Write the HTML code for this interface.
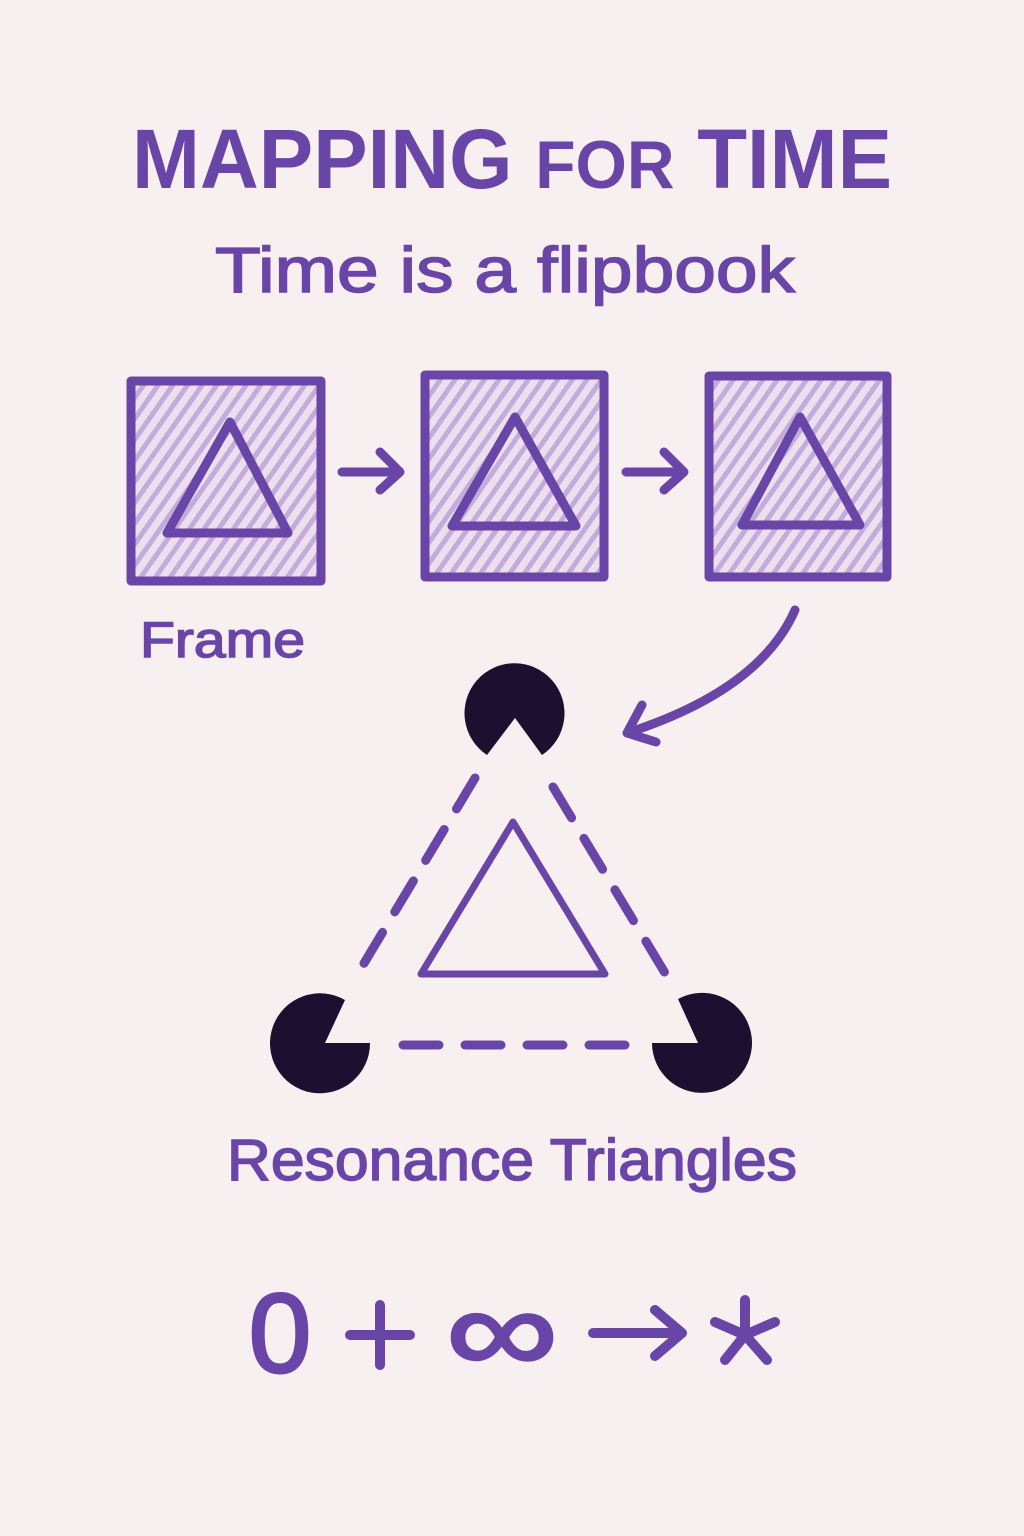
<!DOCTYPE html>
<html><head><meta charset="utf-8"><style>
html,body{margin:0;padding:0;background:#f8eff0;}
svg{display:block}
text{font-family:"Liberation Sans",sans-serif;fill:#6a45a8;}
</style></head><body>
<svg width="1024" height="1536" viewBox="0 0 1024 1536">
<defs>
<pattern id="h" width="12" height="12" patternUnits="userSpaceOnUse" patternTransform="rotate(-55)">
<rect width="12" height="12" fill="#ece0ef"/>
<rect width="12" height="5" fill="#c3acdc"/>
</pattern>
</defs>
<rect width="1024" height="1536" fill="#f8eff0"/>
<text x="512" y="188" text-anchor="middle" font-size="84" font-weight="bold" textLength="760" lengthAdjust="spacingAndGlyphs">MAPPING <tspan font-size="68">FOR</tspan> TIME</text>
<text x="505" y="292" text-anchor="middle" font-size="64" textLength="580" lengthAdjust="spacingAndGlyphs" stroke="#6a45a8" stroke-width="1.5">Time is a flipbook</text>
<g stroke="#6a45a8" stroke-width="9" stroke-linejoin="round" stroke-linecap="round">
<rect x="131" y="381" width="190" height="200" fill="url(#h)"/>
<rect x="425" y="375" width="179" height="202" fill="url(#h)"/>
<rect x="709" y="376" width="178" height="201" fill="url(#h)"/>
<polygon points="230,422 167,533 288,533" fill="none"/>
<polygon points="515,417 452,526 576,526" fill="none"/>
<polygon points="800,417 742,525 860,525" fill="none"/>
<path d="M342,472 H398 M380,452 L400,472 L380,490" fill="none"/>
<path d="M626,472 H682 M664,452 L684,472 L664,490" fill="none"/>
<path d="M795,610 Q760,690 627,733 M642,705 L627,733 L656,742" fill="none"/>
</g>
<text x="140" y="657" font-size="50" textLength="165" lengthAdjust="spacingAndGlyphs" stroke="#6a45a8" stroke-width="1.5">Frame</text>
<g fill="#1c0f30">
<path d="M515,718 L487,755 A50,50 0 1,1 542,755 Z"/>
<path d="M325,1043 L370,1043 A50,50 0 1,1 345,1000 Z"/>
<path d="M698,1043 L652,1043 A50,50 0 1,0 678,999 Z"/>
</g>
<g stroke="#6a45a8" stroke-width="9" stroke-linecap="round" fill="none">
<path d="M475,778 L357,975" stroke-dasharray="36,24"/>
<path d="M553,787 L665,973" stroke-dasharray="36,24"/>
<path d="M403,1045 H628" stroke-dasharray="36,26"/>
<polygon points="513,822 421,974 605,974" stroke-width="7" stroke-linejoin="round"/>
</g>
<text x="512" y="1180" text-anchor="middle" font-size="58" textLength="570" lengthAdjust="spacingAndGlyphs" stroke="#6a45a8" stroke-width="1.5">Resonance Triangles</text>
<text x="280" y="1372" text-anchor="middle" font-size="112" stroke="#6a45a8" stroke-width="3">0</text>
<text x="502" y="1372" text-anchor="middle" font-size="120" textLength="112" lengthAdjust="spacingAndGlyphs" stroke="#6a45a8" stroke-width="3">∞</text>
<g stroke="#6a45a8" stroke-width="10" stroke-linecap="round" stroke-linejoin="round" fill="none">
<path d="M380,1305 V1365 M350,1335 H410"/>
<path d="M593,1333 H680 M655,1310 L682,1333 L655,1356"/>
<path d="M745,1300 V1335 M745,1335 L715,1322 M745,1335 L775,1322 M745,1335 L725,1360 M745,1335 L767,1360"/>
</g>
</svg>
</body></html>
